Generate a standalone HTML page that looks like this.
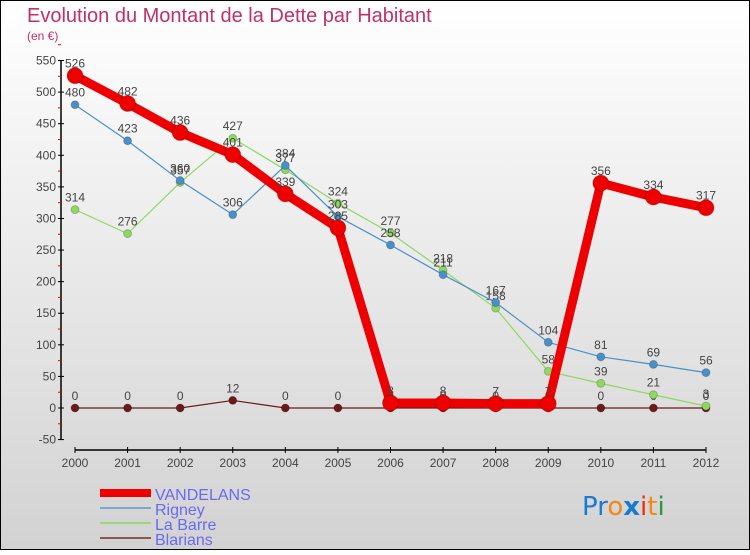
<!DOCTYPE html>
<html><head><meta charset="utf-8"><style>
body{margin:0;width:750px;height:550px;overflow:hidden;font-family:"Liberation Sans",sans-serif}
</style></head><body>
<svg width="750" height="550" viewBox="0 0 750 550">
<defs><linearGradient id="bg" x1="0" y1="0" x2="0" y2="1"><stop offset="0" stop-color="#ffffff"/><stop offset="1" stop-color="#d2d2d2"/></linearGradient></defs>
<rect x="0.5" y="0.5" width="749" height="549" fill="url(#bg)" stroke="#000"/>
<text x="27" y="22" font-size="20" fill="#c0306a">Evolution du Montant de la Dette par Habitant</text>
<text x="27" y="40" font-size="12" fill="#c0306a">(en €)</text>
<g id="axes"></g>
<g id="series"></g>
<g id="legend" font-size="16" fill="#6a6af0">
<rect x="100" y="489" width="51" height="8" fill="#ee0000"/>
<text x="155" y="500">VANDELANS</text>
<rect x="100" y="507" width="51" height="2" fill="#7aaad0"/>
<text x="155" y="515">Rigney</text>
<rect x="100" y="522" width="51" height="2" fill="#9ed47a"/>
<text x="155" y="530">La Barre</text>
<rect x="100" y="537" width="51" height="2" fill="#8a5555"/>
<text x="155" y="545">Blarians</text>
</g>
<g font-size="26" font-family="DejaVu Sans,sans-serif">
<text x="582" y="515"><tspan fill="#1a7ad0">Pr</tspan><tspan fill="#f08a10">o</tspan><tspan fill="#1a7ad0" font-weight="bold">x</tspan><tspan fill="#e83010">i</tspan><tspan fill="#f08a10">t</tspan><tspan fill="#2a9a3a">i</tspan></text>
</g>
</svg>
<script>
const years=[2000,2001,2002,2003,2004,2005,2006,2007,2008,2009,2010,2011,2012];
const vandelans=[526,482,436,401,339,285,8,8,7,7,356,334,317];
const rigney=[480,423,360,306,384,303,258,211,167,104,81,69,56];
const laBarre=[314,276,357,427,377,324,277,218,158,58,39,21,3];
const blarians=[0,0,0,12,0,0,0,0,0,0,0,0,0];
const yTicks=[-50,0,50,100,150,200,250,300,350,400,450,500,550];
const NS="http://www.w3.org/2000/svg";
function xs(i){return 75+i*(706-75)/(years.length-1);}
function ys(v){return 408-v*0.6318;}
function mk(tag,at,parent){const e=document.createElementNS(NS,tag);for(const k in at)e.setAttribute(k,at[k]);parent.appendChild(e);return e;}
const ax=document.getElementById('axes');
let yl=mk('line',{x1:61,y1:ys(550),x2:61,y2:ys(-50),stroke:'#000','stroke-width':1.5},ax);


yTicks.forEach(v=>{
 mk('line',{x1:58,x2:64,y1:ys(v),y2:ys(v),stroke:'#000'},ax);
 mk('line',{x1:58,x2:61,y1:ys(v+25),y2:ys(v+25),stroke:'#e00'},ax);
 const t=mk('text',{x:56,y:ys(v)+4,'font-size':12,fill:'#444','text-anchor':'end'},ax);
 t.textContent=v;
 
 
});
let xl=mk('line',{x1:75,y1:450,x2:706,y2:450,stroke:'#000','stroke-width':1.5},ax);


years.forEach((y,i)=>{
 mk('line',{x1:xs(i),x2:xs(i),y1:447,y2:453,stroke:'#000'},ax);
 const t=mk('text',{x:xs(i),y:467,'font-size':12,fill:'#444','text-anchor':'middle'},ax);
 t.textContent=y;
 
 
});
const sg=document.getElementById('series');
function series(vals,color,w,r,name){
 const g=mk('g',{},sg);
 
 
 const p=mk('polyline',{points:vals.map((v,i)=>xs(i)+','+ys(v)).join(' '),fill:'none',stroke:color,'stroke-width':w,'stroke-linejoin':'round'},g);
 
 
 vals.forEach((v,i)=>{
  const c=mk('circle',{cx:xs(i),cy:ys(v),r:r,fill:color,stroke:'rgba(0,0,0,0.2)'},g);
  
  
  const t=mk('text',{x:xs(i),y:ys(v)-8,'font-size':12,fill:'#444','text-anchor':'middle'},g);
  t.textContent=v;
  
  
 });
}
series(blarians,'#6b1a1a',1.2,4,'blarians');
series(laBarre,'#8fd860',1.2,4,'la-barre');
series(rigney,'#4a90c8',1.2,4,'rigney');
series(vandelans,'#ee0000',9,8,'vandelans');
</script>
</body></html>
